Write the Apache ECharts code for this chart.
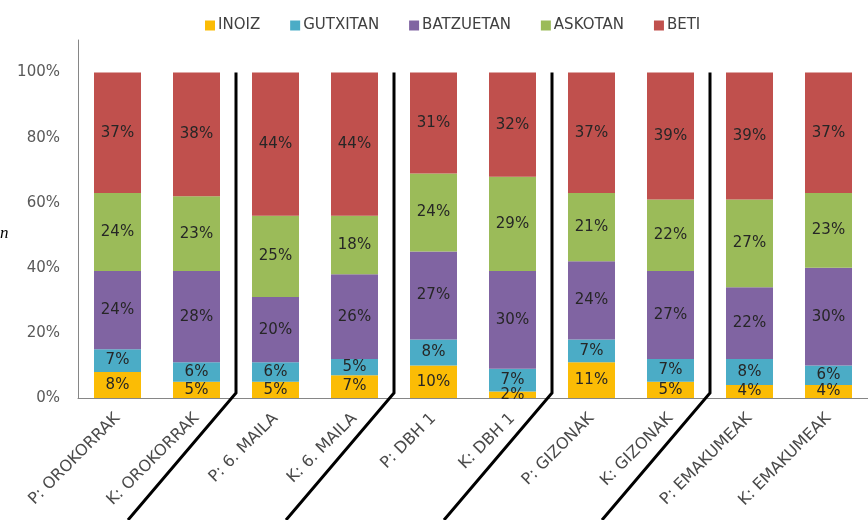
<!DOCTYPE html>
<html><head><meta charset="utf-8">
<script src="https://cdn.jsdelivr.net/npm/echarts@6/dist/echarts.min.js"></script>
<style>html,body{margin:0;padding:0;background:#fff}#c{width:868px;height:520px}</style>
</head><body><div id="c"></div>
<script>
const categories = ['P: OROKORRAK','K: OROKORRAK','P: 6. MAILA','K: 6. MAILA','P: DBH 1','K: DBH 1','P: GIZONAK','K: GIZONAK','P: EMAKUMEAK','K: EMAKUMEAK'];
const seriesNames = ['INOIZ','GUTXITAN','BATZUETAN','ASKOTAN','BETI'];
const inoiz     = [8, 5, 5, 7, 10, 2, 11, 5, 4, 4];
const gutxitan  = [7, 6, 6, 5, 8, 7, 7, 7, 8, 6];
const batzuetan = [24, 28, 20, 26, 27, 30, 24, 27, 22, 30];
const askotan   = [24, 23, 25, 18, 24, 29, 21, 22, 27, 23];
const beti      = [37, 38, 44, 44, 31, 32, 37, 39, 39, 37];
const yTicks = [0, 20, 40, 60, 80, 100];
const separatorsAfter = [1, 3, 5, 7];
const colors = ['#FBBC05','#4BACC6','#8064A2','#9BBB59','#C0504D'];
const allData = [inoiz, gutxitan, batzuetan, askotan, beti];

const chart = echarts.init(document.getElementById('c'));
const FONT = 'DejaVu Sans';
const option = {
  animation: false,
  legend: {
    top: 13, left: 200, itemWidth: 10, itemHeight: 10, itemGap: 30,
    icon: 'rect',
    textStyle: { fontFamily: FONT, fontSize: 15, color: '#404040', padding: [0,0,0,-2] },
    data: seriesNames
  },
  grid: { left: 78, right: -10, top: 40, bottom: 122, containLabel: false },
  xAxis: {
    type: 'category', data: categories,
    axisLine: { lineStyle: { color: '#868686', width: 1 } },
    axisTick: { show: false },
    axisLabel: { rotate: 45, interval: 0, margin: 18, fontFamily: FONT, fontSize: 16, color: '#4a4a4a' }
  },
  yAxis: {
    type: 'value', min: 0, max: 110, interval: 20,
    axisLine: { show: true, lineStyle: { color: '#868686', width: 1 } },
    axisTick: { show: false },
    splitLine: { show: false },
    axisLabel: { margin: 18, fontFamily: FONT, fontSize: 15, color: '#595959',
      formatter: v => yTicks.includes(v) ? v + '%' : '' }
  },
  series: seriesNames.map((n, i) => ({
    name: n, type: 'bar', stack: 'a', barWidth: 47,
    itemStyle: { color: colors[i] },
    label: { show: true, position: 'inside', formatter: '{c}%', fontFamily: FONT, fontSize: 15, color: '#262626' },
    data: allData[i]
  }))
};
chart.setOption(option);

const g = [];
separatorsAfter.forEach(i => {
  const xa = chart.convertToPixel({xAxisIndex:0}, i);
  const xb = chart.convertToPixel({xAxisIndex:0}, i + 1);
  const x = (xa + xb) / 2;
  const yTop = chart.convertToPixel({yAxisIndex:0}, 100);
  const yBase = chart.convertToPixel({yAxisIndex:0}, 0);
  g.push({ type: 'polyline', shape: { points: [[x, yTop], [x, yBase - 5], [x - 108, yBase + 122]] },
    style: { stroke: '#000', lineWidth: 3, fill: null }, z: 100 });
});
g.push({ type: 'text', left: 0, top: 225, style: { text: 'n', font: 'italic 17px "Liberation Serif", serif', fill: '#000' } });
chart.setOption({ graphic: g });
</script></body></html>
